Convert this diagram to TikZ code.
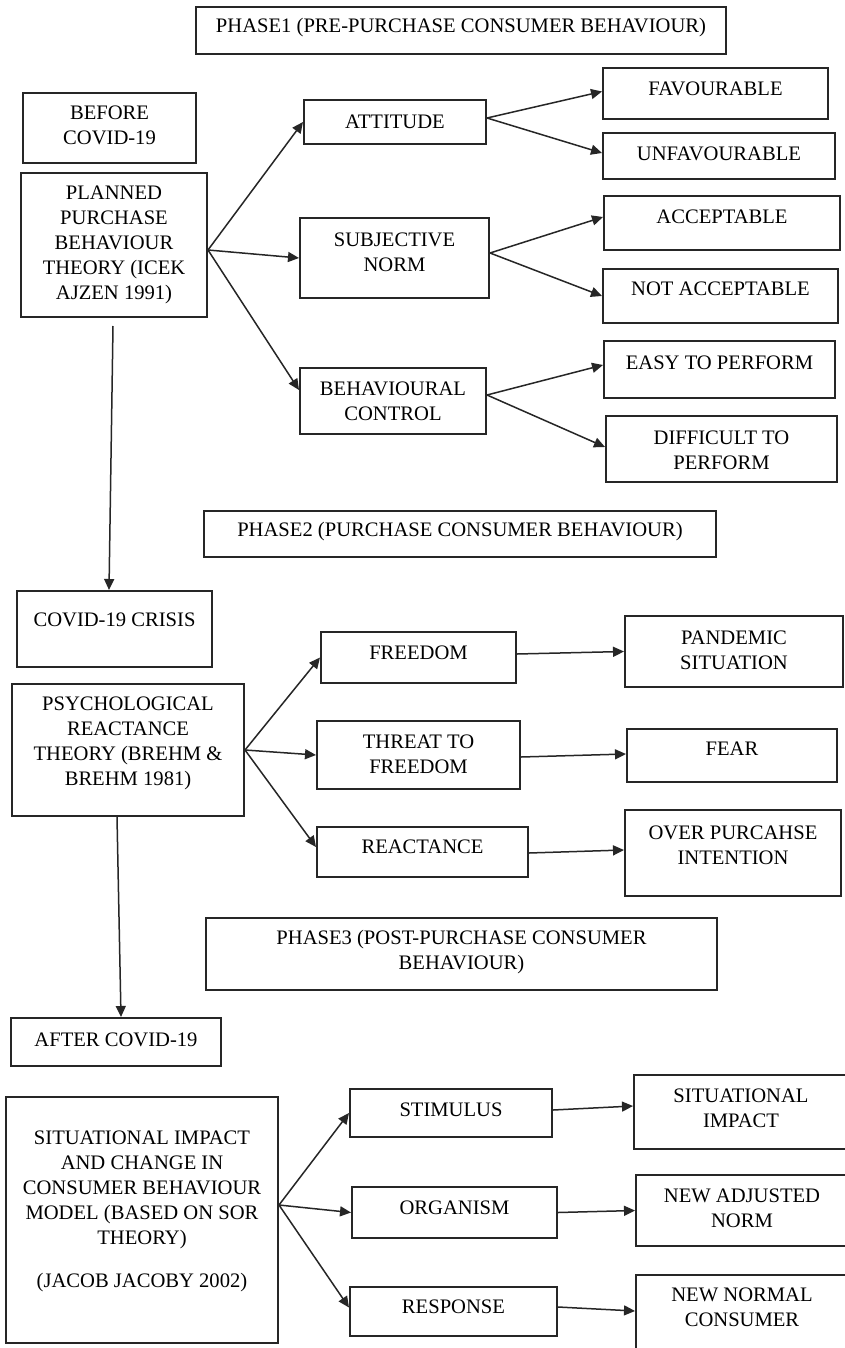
\documentclass[tikz,border=0pt]{standalone}
\usepackage{fontspec}
\setmainfont{Liberation Serif}
\usetikzlibrary{arrows.meta}

\tikzset{
  box/.style={draw=black!85, line width=2pt, inner sep=0pt},
  txt/.style={align=center, inner sep=0pt, font=\fontsize{20.6}{25}\selectfont},
  link/.style={->, line width=1.5pt, draw=black!85},
}

\begin{document}
\begin{tikzpicture}[x=1pt, y=-1pt, >={Triangle[length=11pt,width=10pt]}]
    \fill [white] (0,0) rectangle (845,1348);
    \useasboundingbox (0,0) rectangle (845,1348);
    % phase 1
    \node [box, minimum width=530pt, minimum height=47pt] (ph1) at (461,30.5) {};
    \node [txt] (ph1-t) at (461,28) {PHASE1 (PRE-PURCHASE CONSUMER BEHAVIOUR)};
    \node [box, minimum width=173pt, minimum height=70pt] (before) at (109.5,128) {};
    \node [txt] (before-t) at (109.5,125.5) {BEFORE\\COVID-19};
    \node [box, minimum width=186pt, minimum height=144pt] (planned) at (114,245) {};
    \node [txt] (planned-t) at (114,245) {PLANNED\\PURCHASE\\BEHAVIOUR\\THEORY (ICEK\\AJZEN 1991)};
    \node [box, minimum width=182pt, minimum height=44pt] (att) at (395,122) {};
    \node [txt] (att-t) at (395,122) {ATTITUDE};
    \node [box, minimum width=189pt, minimum height=80pt] (subj) at (394.5,258) {};
    \node [txt] (subj-t) at (394.5,252) {SUBJECTIVE\\NORM};
    \node [box, minimum width=186pt, minimum height=66pt] (beh) at (393,401) {};
    \node [txt] (beh-t) at (393,401) {BEHAVIOURAL\\CONTROL};
    \node [box, minimum width=225pt, minimum height=51pt] (fav) at (715.5,93.5) {};
    \node [txt] (fav-t) at (715.5,89) {FAVOURABLE};
    \node [box, minimum width=232pt, minimum height=46pt] (unfav) at (719,156) {};
    \node [txt] (unfav-t) at (719,154) {UNFAVOURABLE};
    \node [box, minimum width=236pt, minimum height=54pt] (acc) at (722,223) {};
    \node [txt] (acc-t) at (722,217) {ACCEPTABLE};
    \node [box, minimum width=235pt, minimum height=54pt] (nacc) at (720.5,296) {};
    \node [txt] (nacc-t) at (720.5,289) {NOT ACCEPTABLE};
    \node [box, minimum width=231pt, minimum height=57pt] (easy) at (719.5,369.5) {};
    \node [txt] (easy-t) at (719.5,363) {EASY TO PERFORM};
    \node [box, minimum width=231pt, minimum height=66pt] (diff) at (721.5,449) {};
    \node [txt] (diff-t) at (721.5,450) {DIFFICULT TO\\PERFORM};
    \draw [link] ([yshift=-5pt]planned.east) -- (att.west);
    \draw [link] ([yshift=-5pt]planned.east) -- (subj.west);
    \draw [link] ([yshift=-5pt]planned.east) -- ([yshift=11pt]beh.west);
    \draw [link] ([yshift=4pt]att.east) -- ([yshift=2pt]fav.west);
    \draw [link] ([yshift=4pt]att.east) -- ([yshift=3pt]unfav.west);
    \draw [link] ([yshift=5pt]subj.east) -- ([yshift=6pt]acc.west);
    \draw [link] ([yshift=5pt]subj.east) -- (nacc.west);
    \draw [link] ([yshift=6pt]beh.east) -- ([yshift=4.5pt]easy.west);
    \draw [link] ([yshift=6pt]beh.east) -- ([yshift=2pt]diff.west);
    % phase 2
    \node [box, minimum width=512pt, minimum height=46pt] (ph2) at (460,534) {};
    \node [txt] (ph2-t) at (460,532) {PHASE2 (PURCHASE CONSUMER BEHAVIOUR)};
    \node [box, minimum width=195pt, minimum height=76pt] (crisis) at (114.5,629) {};
    \node [txt] (crisis-t) at (114.5,620) {COVID-19 CRISIS};
    \node [box, minimum width=232pt, minimum height=132pt] (psych) at (128,750) {};
    \node [txt] (psych-t) at (128,743.5) {PSYCHOLOGICAL\\REACTANCE\\THEORY (BREHM \&\\BREHM 1981)};
    \node [box, minimum width=195pt, minimum height=51pt] (free) at (418.5,657.5) {};
    \node [txt] (free-t) at (418.5,653) {FREEDOM};
    \node [box, minimum width=203pt, minimum height=68pt] (threat) at (418.5,755) {};
    \node [txt] (threat-t) at (418.5,754.5) {THREAT TO\\FREEDOM};
    \node [box, minimum width=211pt, minimum height=50pt] (react) at (422.5,852) {};
    \node [txt] (react-t) at (422.5,847) {REACTANCE};
    \node [box, minimum width=218pt, minimum height=71pt] (pand) at (734,651.5) {};
    \node [txt] (pand-t) at (734,650) {PANDEMIC\\SITUATION};
    \node [box, minimum width=210pt, minimum height=53pt] (fear) at (732,755.5) {};
    \node [txt] (fear-t) at (732,749) {FEAR};
    \node [box, minimum width=216pt, minimum height=86pt] (over) at (733,853) {};
    \node [txt] (over-t) at (733,845) {OVER PURCAHSE\\INTENTION};
    \draw [link] ([shift={(-1pt,-8pt)}]planned.south) -- ([xshift=-5.5pt]crisis.north);
    \draw [link] (psych.east) -- (free.west);
    \draw [link] (psych.east) -- (threat.west);
    \draw [link] (psych.east) -- ([yshift=5pt]react.west);
    \draw [link] ([yshift=3.5pt]free.east) -- (pand.west);
    \draw [link] ([yshift=-2pt]threat.east) -- ([yshift=1.5pt]fear.west);
    \draw [link] ([yshift=-1pt]react.east) -- ([yshift=3pt]over.west);
    % phase 3
    \node [box, minimum width=511pt, minimum height=72pt] (ph3) at (461.5,954) {};
    \node [txt] (ph3-t) at (461.5,952) {PHASE3 (POST-PURCHASE CONSUMER\\BEHAVIOUR)};
    \node [box, minimum width=210pt, minimum height=48pt] (after) at (116,1042) {};
    \node [txt] (after-t) at (116,1040) {AFTER COVID-19};
    \node [box, minimum width=272pt, minimum height=246pt] (sit) at (142,1220) {};
    \node [txt] (sit-t) at (142,1211.5) {SITUATIONAL IMPACT\\AND CHANGE IN\\CONSUMER BEHAVIOUR\\MODEL (BASED ON SOR\\THEORY)\\[18pt](JACOB JACOBY 2002)};
    \node [box, minimum width=202pt, minimum height=48pt] (stim) at (451,1113) {};
    \node [txt] (stim-t) at (451,1110) {STIMULUS};
    \node [box, minimum width=205pt, minimum height=51pt] (org) at (454.5,1212.5) {};
    \node [txt] (org-t) at (454.5,1208) {ORGANISM};
    \node [box, minimum width=207pt, minimum height=49pt] (resp) at (453.5,1311.5) {};
    \node [txt] (resp-t) at (453.5,1307) {RESPONSE};
    \node [box, minimum width=214pt, minimum height=74pt] (sitimp) at (741,1112) {};
    \node [txt] (sitimp-t) at (741,1108) {SITUATIONAL\\IMPACT};
    \node [box, minimum width=212pt, minimum height=71pt] (newadj) at (742,1210.5) {};
    \node [txt] (newadj-t) at (742,1208) {NEW ADJUSTED\\NORM};
    \node [box, minimum width=212pt, minimum height=85pt] (newnorm) at (742,1317.5) {};
    \node [txt] (newnorm-t) at (742,1307) {NEW NORMAL\\CONSUMER};
    \draw [link] ([xshift=-11pt]psych.south) -- ([xshift=5pt]after.north);
    \draw [link] ([yshift=15pt]sit.east) -- (stim.west);
    \draw [link] ([yshift=15pt]sit.east) -- (org.west);
    \draw [link] ([yshift=15pt]sit.east) -- ([yshift=4pt]resp.west);
    \draw [link] ([yshift=3pt]stim.east) -- ([yshift=6pt]sitimp.west);
    \draw [link] (org.east) -- (newadj.west);
    \draw [link] ([yshift=4.5pt]resp.east) -- ([yshift=6.5pt]newnorm.west);
\end{tikzpicture}
\end{document}
